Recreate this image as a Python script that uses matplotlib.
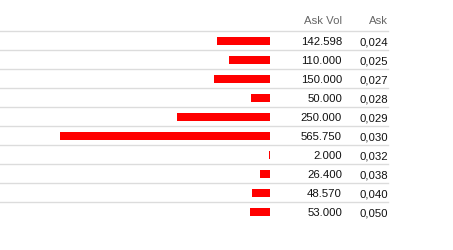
import matplotlib
matplotlib.use("Agg")
import matplotlib.pyplot as plt

plt.rcParams['font.family'] = ['Liberation Sans', 'DejaVu Sans']

# order book, ask side
ask_vol = [142598, 110000, 150000, 50000, 250000, 565750, 2000, 26400, 48570, 53000]
ask = [0.024, 0.025, 0.027, 0.028, 0.029, 0.030, 0.032, 0.038, 0.040, 0.050]
headers = ['Ask Vol', 'Ask']


def fmt_vol(v):
    # german style: dot as thousands separator
    return '{:,.3f}'.format(v / 1000).replace(',', '.')


def fmt_price(p):
    return '{:.3f}'.format(p).replace('.', ',')


W, H = 453, 251
fig = plt.figure(figsize=(W / 100, H / 100), dpi=100)

row_h = 19.0
first_center = 41.8
ylim = ((H - first_center) / row_h, -first_center / row_h)

# background axes for grid lines and text
ax = fig.add_axes([0, 0, 1, 1])
ax.set_xlim(0, W)
ax.set_ylim(*ylim)
ax.axis('off')

n = len(ask_vol)
for i in range(n):
    ax.axhline(i - 0.5, xmin=0, xmax=388 / W, color='#dcdcdc', lw=1.0)

vol_x = 342
ask_x = 388
base = 3.6 / row_h
for i in range(n):
    ax.text(vol_x, i + base, fmt_vol(ask_vol[i]), ha='right', va='baseline',
            fontsize=8.2, color='#111111')
    ax.text(ask_x, i + base, fmt_price(ask[i]), ha='right', va='baseline',
            fontsize=8.2, color='#111111')
ax.text(vol_x, -1.15 + base, headers[0], ha='right', va='baseline', fontsize=8.2, color='#666666')
ax.text(ask_x, -1.15 + base, headers[1], ha='right', va='baseline', fontsize=8.2, color='#666666')

# bars growing leftwards from x=270px
bar_right = 270
bax = fig.add_axes([0, 0, bar_right / W, 1])
bax.set_ylim(*ylim)
bax.set_xlim(max(ask_vol) * bar_right / 210.0, 0)
bax.axis('off')
bax.barh(range(n), ask_vol, height=8.0 / row_h, color='#ff0000', linewidth=0,
         antialiased=False)

fig.savefig('out.png', dpi=100)
